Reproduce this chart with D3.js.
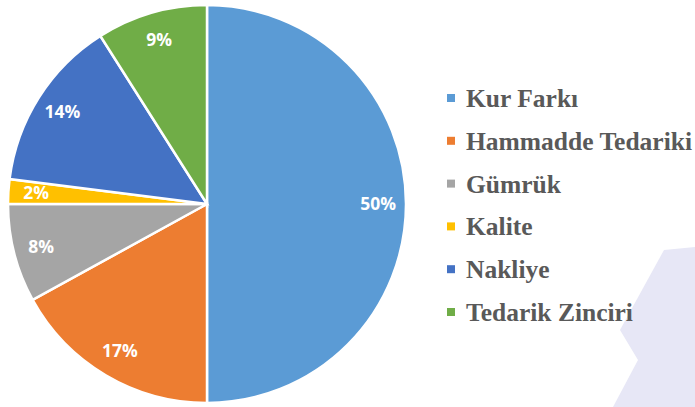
<!DOCTYPE html>
<meta charset="utf-8">
<style>
html, body { margin: 0; background: #fff; }
svg { display: block; }
.legend text { font-family: "Liberation Serif", "Times New Roman", serif; font-weight: bold; font-size: 25.5px; fill: #595959; }
.labels text { font-family: "Open Sans", sans-serif; font-weight: bold; font-size: 17.5px; fill: #fff; }
</style>
<body>
<svg width="695" height="407"></svg>
</body>
<script src="https://cdn.jsdelivr.net/npm/d3@7"></script>
<script>

// data
var categories = ["Kur Farkı", "Hammadde Tedariki", "Gümrük", "Kalite", "Nakliye", "Tedarik Zinciri"]
var values = [50, 17, 8, 2, 14, 9]
var colors = ["#5B9BD5", "#ED7D31", "#A5A5A5", "#FFC000", "#4472C4", "#70AD47"]

var svg = d3.select("svg")

// faint watermark chevron in the corner
svg.append("path")
    .attr("d", "M664,250L695,247L695,407L613,407L638,360L620,330Z")
    .attr("fill", "#e7e7f6")

var cx = 207, cy = 204, radius = 199

var pie = d3.pie().sort(null).value(function(d) { return d.value })
var arc = d3.arc().innerRadius(0).outerRadius(radius)
var labelArc = d3.arc().innerRadius(radius * 0.86).outerRadius(radius * 0.86)
var color = d3.scaleOrdinal().domain(categories).range(colors)

var data = categories.map(function(c, i) { return { name: c, value: values[i] } })
var arcs = pie(data)

var g = svg.append("g").attr("transform", "translate(" + cx + "," + cy + ")")

g.selectAll("path")
    .data(arcs)
  .enter().append("path")
    .attr("d", arc)
    .attr("fill", function(d) { return color(d.data.name) })
    .attr("stroke", "#fff")
    .attr("stroke-width", 2.5)

var total = d3.sum(values)
g.append("g").attr("class", "labels")
  .selectAll("text")
    .data(arcs)
  .enter().append("text")
    .attr("transform", function(d) { return "translate(" + labelArc.centroid(d) + ")" })
    .attr("text-anchor", "middle")
    .attr("dy", "0.35em")
    .text(function(d) { return Math.round(d.data.value / total * 100) + "%" })

// legend
var legendY = d3.scalePoint().domain(categories).range([98, 312])

var legend = svg.append("g").attr("class", "legend")
  .selectAll("g")
    .data(categories)
  .enter().append("g")
    .attr("transform", function(d) { return "translate(447," + legendY(d) + ")" })

legend.append("rect")
    .attr("x", 0).attr("y", -4)
    .attr("width", 8).attr("height", 8)
    .attr("fill", function(d) { return color(d) })

legend.append("text")
    .attr("x", 19)
    .attr("dy", "0.35em")
    .text(function(d) { return d })

</script>
